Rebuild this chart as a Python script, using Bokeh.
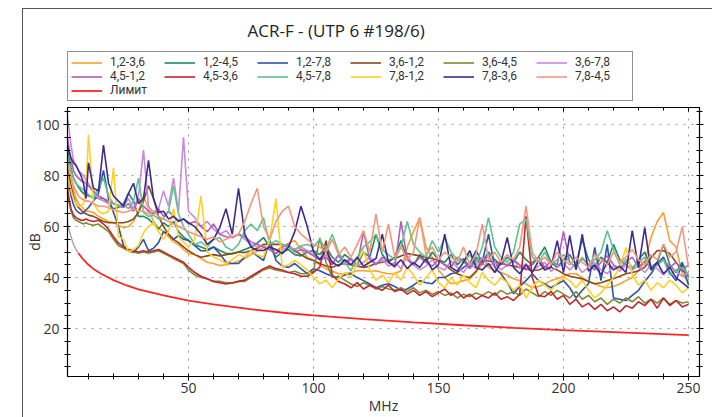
from bokeh.plotting import figure
from bokeh.layouts import column
from bokeh.models import (Range1d, Legend, LegendItem, LinearAxis, FixedTicker)
from bokeh.embed import file_html
from bokeh.resources import INLINE

TITLE = "ACR-F - (UTP 6 #198/6)"
X_LABEL = "MHz"
Y_LABEL = "dB"
X_TICKS = [50, 100, 150, 200, 250]
X_MINOR = [10, 20, 30, 40, 60, 70, 80, 90, 110, 120, 130, 140, 160, 170, 180, 190, 210, 220, 230, 240]
Y_TICKS = [20, 40, 60, 80, 100]
Y_MINOR = [5, 10, 15, 25, 30, 35, 45, 50, 55, 65, 70, 75, 85, 90, 95, 105]

FREQ = [1, 2, 3, 4, 5, 6, 7, 8, 9, 10,
        12, 14, 16, 18, 20, 22, 24, 26, 28, 30,
        32, 34, 36, 38, 40, 42, 44, 46, 48, 50,
        52.5, 55, 57.5, 60, 62.5, 65, 67.5, 70, 72.5, 75,
        77.5, 80, 82.5, 85, 87.5, 90, 92.5, 95, 97.5, 100,
        102.5, 105, 107.5, 110, 112.5, 115, 117.5, 120, 122.5, 125,
        127.5, 130, 132.5, 135, 137.5, 140, 142.5, 145, 147.5, 150,
        152.5, 155, 157.5, 160, 162.5, 165, 167.5, 170, 172.5, 175,
        177.5, 180, 182.5, 185, 187.5, 190, 192.5, 195, 197.5, 200,
        202.5, 205, 207.5, 210, 212.5, 215, 217.5, 220, 222.5, 225,
        227.5, 230, 232.5, 235, 237.5, 240, 242.5, 245, 247.5, 250]

PAIRS = ["1,2-3,6", "1,2-4,5", "1,2-7,8", "3,6-1,2", "3,6-4,5", "3,6-7,8",
         "4,5-1,2", "4,5-3,6", "4,5-7,8", "7,8-1,2", "7,8-3,6", "7,8-4,5"]

S_12_36 = [92, 86, 80, 75, 71, 69, 68, 67, 66, 66,
           65.5, 64, 63, 62, 61.5, 60.5, 59.5, 60, 62, 66,
           72, 67, 62, 59.5, 58, 56, 54, 53, 51, 49.5,
           49, 47.5, 46, 45.5, 44.7, 45, 45.5, 46.5, 47.5, 49,
           50.5, 51.8, 51, 50.6, 52, 53.5, 54.5, 51, 48, 46.7,
           45, 43.5, 42.5, 41.5, 41.5, 42, 42.7, 42.7, 42.5, 42.7,
           42, 41.5, 41.5, 42.7, 52, 58, 63.5, 52, 48, 43,
           40, 37.6, 38, 38.8, 39.5, 42, 45.5, 44, 42.7, 42,
           41, 39.5, 38.8, 37.5, 36, 36.5, 37.5, 38.8, 39.5, 40.5,
           41.5, 41.5, 40, 38.5, 37.6, 36.5, 36, 36.5, 37.5, 38.8,
           40, 42.7, 46, 55.7, 62, 65.5, 54.5, 52, 41.5, 38]

S_12_45 = [92, 88, 83, 79, 77, 75.5, 74, 73, 72.5, 72,
           71.5, 71, 71, 69, 67, 67.5, 69, 73, 70, 64,
           64, 63, 61, 59, 61.5, 60, 62, 58, 56, 54.5,
           53, 52, 51, 52, 50.6, 49.5, 49.4, 50, 51, 52,
           53.5, 55.7, 52, 48, 50, 51, 49, 48.5, 50, 50.6,
           49, 52, 48, 46, 49, 47, 45, 50, 48, 57,
           49, 46, 48, 54.5, 47, 45, 49, 46, 50, 47,
           46, 49, 45, 47.5, 44, 48, 46, 50, 47, 45,
           48, 46, 50, 47, 45, 48, 52, 46, 44, 47,
           49, 45, 55, 47, 44, 48, 46, 53, 47, 45,
           43, 47, 50, 44, 46, 53, 45, 42, 46, 40]

S_12_78 = [85, 78, 72, 68.5, 66.5, 65.5, 65, 65.5, 66.5, 67.5,
           70, 73, 82, 71, 65.5, 60, 52.5, 50.5, 49.8, 52,
           55, 50.5, 51.5, 53.7, 58, 57, 55, 56.5, 55, 54.5,
           52.5, 50.5, 50.5, 52, 49.4, 46, 45.5, 45.5, 48, 50.6,
           48.5, 46.7, 54.5, 46.7, 44.5, 44, 45.5, 43.5, 41.5, 43.5,
           42.7, 41.5, 40.5, 40, 41, 41.5, 40, 38.8, 37.5, 36,
           37, 37.6, 36.5, 35, 35.5, 37, 38.8, 38, 37.6, 40,
           40, 41.5, 42, 44, 45.5, 50.6, 46, 57, 44, 41.5,
           38, 33.7, 36.5, 38.8, 41.5, 38.8, 37.5, 36, 37.5, 38.8,
           36, 32, 35, 37.6, 51.8, 38.8, 53, 32, 31.5, 31,
           33, 35, 38.5, 41.5, 45.5, 48, 42, 38.8, 45.5, 37]

S_36_12 = [88, 82, 76, 72, 69, 67.5, 66.5, 65.5, 65, 64.5,
           64, 63, 62, 61.5, 61.5, 61.5, 61.5, 62, 63, 65.5,
           70, 76, 71, 64, 60, 57, 55, 53.7, 52, 50.5,
           49, 48, 48.5, 49, 48.5, 49, 49.4, 50, 49.8, 50.6,
           51.5, 53, 53, 53, 53, 52, 50.5, 49, 47.5, 46.7,
           45.5, 44.5, 44, 45, 45.5, 45, 44.5, 44, 44.5, 45.5,
           46, 46.7, 47.5, 48.5, 49.4, 49, 48.5, 48, 47.5, 46.7,
           45, 43, 41.5, 40.5, 40, 42.5, 46.7, 46.5, 46, 45.5,
           45, 44.5, 44, 43.5, 42.7, 43, 44, 44, 43, 41.5,
           40.5, 40, 39.5, 38.5, 37.6, 38, 38.8, 39.5, 40.5, 41.5,
           42, 42.7, 44, 47.8, 50.6, 50.5, 49.4, 46, 42.7, 41]

S_36_45 = [78, 71, 66, 63.5, 62.5, 62, 61.5, 61, 61.5, 61,
           60.5, 61, 59.5, 58, 55, 52.5, 51.5, 50.5, 50, 49.5,
           50, 49.5, 50, 50.5, 49.5, 48.5, 47.5, 46.5, 45.5, 43,
           41, 40, 39.5, 38.5, 38.5, 38, 37.8, 38.5, 38.5, 40,
           41.5, 43, 43.8, 43, 42.5, 42, 42.5, 41.5, 41.5, 42.5,
           55.5, 46, 40, 40.5, 39, 37.5, 36.5, 38, 37, 35.5,
           36.5, 35.5, 35, 36, 34.5, 36, 34, 35, 33.5, 34.5,
           33, 34, 32, 33.5, 32.5, 34, 33, 34.5, 33, 35,
           33.5, 34.5, 33, 35.5, 34, 32.5, 34.5, 33, 35, 33.5,
           32, 34.5, 31.5, 33, 30.5, 32, 29.5, 31.5, 30, 32,
           30.5, 32.5, 30, 31.5, 30, 32, 29.5, 31, 30, 30.5]

S_36_78 = [106, 100, 92, 86, 84, 82, 81, 80, 78, 77,
           73, 71, 70, 69, 69, 68.5, 68, 71, 67, 72,
           90, 68, 65.5, 67, 74, 68, 79, 66, 95, 66,
           63.5, 60, 62, 59, 57, 58.4, 55.7, 57, 55, 53,
           52, 52.5, 51, 49.4, 51, 52, 51, 52, 50.6, 49,
           47.5, 49, 46, 48.5, 45, 47, 44.5, 46, 48, 45.5,
           47, 44.5, 46, 43.5, 48.5, 45, 43, 44.5, 47, 44,
           43, 46.5, 44, 42, 45.5, 43.5, 48, 44.5, 46, 43,
           45, 47, 43.5, 45.5, 42.5, 44.5, 46, 42.5, 44, 45.5,
           43, 45.5, 42, 44, 46, 43, 41.5, 44.5, 42.5, 45,
           43, 44.5, 42, 45, 43.5, 41, 44, 42.5, 40.5, 42]

S_45_12 = [98, 92, 86, 82, 80, 79, 78, 77.5, 77, 76,
           74, 72, 71, 70, 69, 68, 67.5, 69, 66, 71,
           68, 66, 65, 67, 64, 66, 64, 62.5, 63, 61,
           62, 60, 58, 61, 57, 56, 55.7, 57, 56, 54,
           53, 52, 51, 49.4, 52, 53, 50, 51, 50, 48.5,
           47, 48, 45, 49, 46, 47.5, 45, 58, 47, 45,
           48, 46, 44, 62, 47, 45, 48, 46, 44.5, 47,
           45, 44, 48, 46.5, 43.5, 47, 45, 49, 44, 46.5,
           44.5, 47, 45, 43, 46, 48, 44, 46.5, 45, 58,
           46, 44, 47.5, 45, 43, 46, 48.5, 45, 43.5, 46,
           48, 44, 46.5, 43.5, 45, 47, 44, 46, 43, 45]

S_45_36 = [80, 72, 67, 64.5, 63.5, 63, 62.5, 62.5, 63, 62.5,
           62, 62.5, 61, 59, 56, 53.5, 52, 51, 50.5, 50,
           50.5, 50, 50.5, 51, 50, 49, 48, 47, 46, 44,
           42, 40.5, 39.5, 38.5, 38, 37.5, 38, 38.5, 39, 40.5,
           42, 43.5, 44.5, 43.5, 43, 42, 41.5, 40.5, 40.5, 42,
           44, 54.5, 41, 38.5, 37.5, 36, 38, 35.5, 37, 36,
           35, 37, 34.5, 35.5, 33.5, 35, 33, 34.5, 32.5, 34,
           35.5, 33, 34.5, 32, 33.5, 31.5, 33, 32, 34, 31.5,
           32.5, 31, 33.5, 64, 40, 33, 32.5, 34.5, 31.5, 33,
           29.5, 31.5, 28.5, 30, 27.5, 29.5, 27, 28.5, 26.5, 29,
           28, 30.5, 29, 31.5, 28, 32, 29, 31, 28.5, 29.5]

S_45_78 = [90, 86, 82, 79, 77, 76, 75, 74.5, 73.5, 72.5,
           71, 75, 79, 72, 69, 68, 68.5, 67, 70, 79,
           65.5, 64, 64.5, 63, 63, 66, 76, 65, 60, 57,
           53, 54, 52, 55, 55.7, 52, 50.6, 53, 58.4, 61,
           58.4, 63.5, 53, 54.5, 53, 52, 51, 52.5, 53, 52,
           55, 51, 57, 50, 46, 42.7, 48, 52, 54, 57,
           51, 49, 47, 52, 62, 53, 50, 48, 54.5, 50,
           55.7, 50, 47, 46, 49, 45, 52, 63.5, 52, 48,
           46, 50, 61, 63, 48, 46, 50, 45, 47, 49,
           46, 44, 48, 45, 47, 50, 58.4, 51, 45, 47,
           44, 46, 48, 43, 45, 47, 41, 43, 44, 41]

S_78_12 = [84, 78, 74, 71, 69, 68, 68, 69, 75, 96,
           69, 66, 65, 66, 83, 56, 55, 50, 51, 52.5,
           57.6, 60, 61.5, 58, 55, 58, 67, 56, 54, 52,
           55, 72, 50, 48, 47, 45.5, 47, 49, 48, 50.6,
           49, 48, 55, 71, 44, 45, 46.7, 45, 43, 40,
           37.6, 39, 36, 39.5, 42, 40, 46, 50.6, 43, 39,
           41, 38, 42, 39, 44, 41, 37, 40, 43, 38,
           36, 40, 37, 41, 38, 36, 42, 39, 37, 40,
           38, 35, 37, 32, 36, 39, 37, 35, 38, 40,
           38.8, 36, 39, 35, 32, 34, 37, 40, 44, 51.8,
           41, 37, 39, 35, 38, 36, 39, 37, 34, 36]

S_78_36 = [94, 90, 87, 85, 84, 82, 80, 77, 71, 85,
           75, 74, 92, 77, 72, 70, 68, 73, 77, 69,
           71, 86, 71, 65.5, 66, 63, 64, 62, 63, 61.5,
           60, 57, 53, 55, 59.6, 67, 57, 75, 57, 52,
           50.6, 50.6, 52, 51, 49.4, 52, 58, 68, 60, 50,
           47, 50.6, 46, 44.5, 47, 45, 48, 44.5, 46, 47.5,
           57, 46, 44.5, 47, 43.5, 46, 44, 47.5, 43, 45,
           57, 44, 42.5, 46, 50.6, 44, 43, 45.5, 42, 46,
           55.7, 44, 41.5, 45, 42, 46.5, 43, 44, 54.5, 42,
           56.5, 43, 57, 42.5, 45, 41, 46, 43, 44.5, 42,
           58.4, 44, 59.6, 43, 46, 41.5, 44, 40, 38, 36]

S_78_45 = [88, 83, 79, 76, 74, 72, 71, 70.5, 70, 70,
           69, 68, 68, 67.5, 66.5, 66, 65.5, 66, 67, 66,
           66, 65, 66, 64, 63, 62, 61, 60, 59, 58,
           57, 56, 55, 56, 54, 55, 56, 57, 62, 69,
           75, 60, 55, 62, 66, 68, 60, 57, 55, 53,
           52, 50, 55, 49, 52, 48, 53, 58.4, 50, 65,
           50, 61, 48, 52, 47, 50, 63.5, 49, 52, 47,
           50, 48, 46, 52, 45, 49, 61, 47, 50, 46,
           49, 47, 52, 68, 50, 46, 48, 45, 50, 47,
           45, 48, 46, 44, 49, 47, 45, 50, 46, 48,
           51, 47, 45, 49, 47, 53, 48, 50, 60, 44]

SERIES = [S_12_36, S_12_45, S_12_78, S_36_12, S_36_45, S_36_78,
          S_45_12, S_45_36, S_45_78, S_78_12, S_78_36, S_78_45]

LIMIT_NAME = "Лимит"
LIMIT_F = [1, 2, 3, 4, 5, 6, 8, 10, 12, 15, 20, 25, 30, 40, 50, 60, 70, 80, 90,
           100, 120, 140, 160, 180, 200, 220, 240, 250]
LIMIT_DB = [65, 59.5, 56, 53, 51, 49.5, 47, 45, 43.4, 41.5, 39, 37, 35.4, 33, 31,
            29.5, 28.2, 27, 26, 25.2, 23.7, 22.4, 21.3, 20.3, 19.4, 18.6, 17.8, 17.4]

# ---- styles ----
COLORS = ["#f9a12c", "#1e8c5f", "#2c54ad", "#8a4a1f", "#7f8b34", "#c98bd8",
          "#b55bb9", "#c1272d", "#5ec48f", "#ffd126", "#3c2c8e", "#f4977f"]
LIMIT_COLOR = "#ff2626"
LIMIT_PRE_COLOR = "#aaaaaa"
FONT = "Open Sans"
LEGEND_FONT = "Roboto"
FRAME = "#555555"
LW = 1.6

# ---------------- header: title + legend ----------------
head = figure(width=712, height=107, output_backend="svg", toolbar_location=None,
              x_range=Range1d(0, 1), y_range=Range1d(0, 1),
              x_axis_type=None, y_axis_type=None,
              min_border_left=67, min_border_top=51, min_border_right=0,
              min_border_bottom=0, outline_line_color=None,
              border_fill_alpha=0, background_fill_alpha=0)
head.grid.visible = False
head.styles = {
    "background-color": "white",
    "background-image": f"linear-gradient({FRAME}, {FRAME}), linear-gradient({FRAME}, {FRAME})",
    "background-position": "22px 8px, 22px 8px",
    "background-size": "1px 100%, 100% 1px",
    "background-repeat": "no-repeat",
}

proxies = []
for col in COLORS:
    proxies.append(head.line([-5, -4], [-5, -4], line_color=col, line_width=LW))
lim_proxy = head.line([-5, -4], [-5, -4], line_color=LIMIT_COLOR, line_width=1.8)

items = [LegendItem(label=n, renderers=[r]) for n, r in zip(PAIRS, proxies)]
items.append(LegendItem(label=LIMIT_NAME, renderers=[lim_proxy]))
legend = Legend(items=items, location="top_left", orientation="horizontal", ncols=6,
                padding=3, spacing=0, margin=0,
                glyph_width=31, glyph_height=13, label_height=13,
                label_width=54, label_standoff=8,
                label_text_font=LEGEND_FONT, label_text_font_size="12px",
                label_text_color="#333333",
                border_line_color="#222222", border_line_width=1,
                background_fill_color="white", background_fill_alpha=1)
head.add_layout(legend, "center")

head.title.text = TITLE
head.title.align = "left"
head.title.offset = 180
head.title.text_font = FONT
head.title.text_font_size = "17px"
head.title.text_font_style = "normal"
head.title.text_color = "#222222"
head.title.standoff = 19

# ---------------- main plot ----------------
p = figure(width=712, height=310, output_backend="svg", toolbar_location=None,
           x_range=Range1d(1.6, 254.4), y_range=Range1d(1.2, 106.7),
           min_border_left=67, min_border_right=13, min_border_top=0,
           min_border_bottom=41, border_fill_alpha=0,
           background_fill_color="white", outline_line_color="black")
p.styles = {
    "background-color": "white",
    "background-image": f"linear-gradient({FRAME}, {FRAME})",
    "background-position": "22px 0px",
    "background-size": "1px 100%",
    "background-repeat": "no-repeat",
}

for ys, col in zip(SERIES, COLORS):
    p.line(FREQ, ys, line_color=col, line_width=LW)
p.line(LIMIT_F[:6], LIMIT_DB[:6], line_color=LIMIT_PRE_COLOR, line_width=1.5)
p.line(LIMIT_F[5:], LIMIT_DB[5:], line_color=LIMIT_COLOR, line_width=1.8)


def style_axis(ax, ticks, minor, labels=True):
    ax.ticker = FixedTicker(ticks=ticks, minor_ticks=minor)
    ax.axis_line_color = "black"
    ax.axis_line_width = 1.2
    ax.major_tick_line_color = "black"
    ax.minor_tick_line_color = "black"
    ax.major_tick_in = 3
    ax.major_tick_out = 4
    ax.minor_tick_in = 3
    ax.minor_tick_out = 3
    if labels:
        ax.major_label_text_font = FONT
        ax.major_label_text_font_size = "14px"
        ax.major_label_text_color = "#333333"
        ax.axis_label_text_font = FONT
        ax.axis_label_text_font_size = "14px"
        ax.axis_label_text_font_style = "normal"
        ax.axis_label_text_color = "#333333"
    else:
        ax.major_label_text_font_size = "1px"
        ax.major_label_text_color = None
        ax.major_label_standoff = 0


xa = p.xaxis[0]
style_axis(xa, X_TICKS, X_MINOR)
xa.axis_label = X_LABEL
xa.major_label_standoff = 2
xa.axis_label_standoff = 0

ya = p.yaxis[0]
style_axis(ya, Y_TICKS, Y_MINOR)
ya.axis_label = Y_LABEL
ya.major_label_standoff = 4
ya.axis_label_standoff = -12

top = LinearAxis()
style_axis(top, X_TICKS, X_MINOR, labels=False)
top.major_tick_out = 0
top.minor_tick_out = 0
top.major_tick_in = 4
top.minor_tick_in = 3
p.add_layout(top, "above")
right = LinearAxis()
style_axis(right, Y_TICKS, Y_MINOR, labels=False)
p.add_layout(right, "right")

p.xgrid.ticker = FixedTicker(ticks=X_TICKS)
p.ygrid.ticker = FixedTicker(ticks=Y_TICKS)
for g in (p.xgrid, p.ygrid):
    g.grid_line_color = "#9a9a9a"
    g.grid_line_dash = "2 6"
    g.grid_line_width = 1

layout = column(head, p, spacing=0)
open("out.html", "w").write(file_html(layout, INLINE))
